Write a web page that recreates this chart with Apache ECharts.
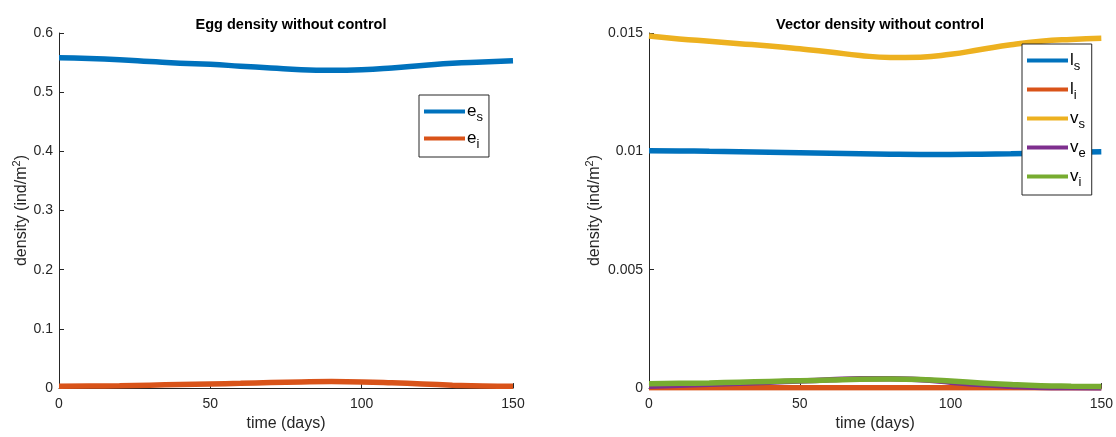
<!DOCTYPE html>
<html><head><meta charset="utf-8">
<script src="https://cdn.jsdelivr.net/npm/echarts@6/dist/echarts.min.js"></script>
<style>html,body{margin:0;padding:0;background:#fff}#c{width:1116px;height:437px}</style>
</head><body><div id="c"></div>
<script>
const days = [0,10,20,30,40,50,60,70,80,90,100,110,120,130,140,150];
const eS = [0.558,0.557,0.555,0.552,0.549,0.547,0.544,0.541,0.538,0.537,0.538,0.541,0.545,0.549,0.551,0.553];
const eI = [0.003,0.0035,0.004,0.005,0.006,0.007,0.008,0.0095,0.0105,0.011,0.0105,0.009,0.007,0.005,0.0035,0.003];
const lS = [0.01003,0.01002,0.01000,0.00998,0.00996,0.00994,0.00992,0.00990,0.00988,0.00987,0.00987,0.00988,0.00990,0.00993,0.00996,0.00998];
const lI = [0.00001,0.00001,0.00001,0.00001,0.00001,0.00001,0.00001,0.00001,0.00001,0.00001,0.00001,0.00001,0.00001,0.00001,0.00001,0.00001];
const vS = [0.01487,0.01475,0.01465,0.01455,0.01445,0.01433,0.0142,0.01405,0.01397,0.01398,0.0141,0.0143,0.0145,0.01465,0.01473,0.01478];
const vE = [0.00008,0.00012,0.00016,0.0002,0.00025,0.0003,0.00035,0.0004,0.0004,0.00035,0.00025,0.00015,0.00008,0.00003,0.00001,0];
const vI = [0.00018,0.0002,0.00022,0.00025,0.00028,0.00031,0.00034,0.00037,0.00038,0.00036,0.0003,0.00022,0.00015,0.0001,0.00008,0.00007];
const leftTicks = [0,0.1,0.2,0.3,0.4,0.5,0.6];
const rightTicks = [0,0.005,0.01,0.015];

const C = ['#0072BD','#D95319','#EDB120','#7E2F8E','#77AC30'];
const FONT = '"Liberation Sans", Arial, sans-serif';
const axisCol = '#262626';
const pair = (ys) => days.map((d,i)=>[d, ys[i]]);

function mkX(gi){
  return {type:'value', gridIndex:gi, min:0, max:150, interval:50,
    name:'time (days)', nameLocation:'middle', nameGap:27,
    nameTextStyle:{fontFamily:FONT,fontSize:16,color:axisCol},
    axisLine:{lineStyle:{color:axisCol,width:1}},
    axisTick:{inside:true,length:5,lineStyle:{color:axisCol}},
    axisLabel:{fontFamily:FONT,fontSize:14,color:axisCol,margin:9},
    splitLine:{show:false}};
}
function mkY(gi, max, interval, ticks){
  return {type:'value', gridIndex:gi, min:0, max:max, interval:interval,
    name:'density (ind/m{sup|2})', nameLocation:'middle', nameGap: gi===0?25:44,
    nameTextStyle:{fontFamily:FONT,fontSize:16,color:axisCol,
      rich:{sup:{fontFamily:FONT,fontSize:11,color:axisCol,verticalAlign:'top',padding:[0,0,10,0]}}},
    axisLine:{lineStyle:{color:axisCol,width:1}},
    axisTick:{inside:true,length:5,lineStyle:{color:axisCol}},
    axisLabel:{fontFamily:FONT,fontSize:14,color:axisCol,margin:6,
      formatter:(v)=>{ const t = ticks.find(x=>Math.abs(x-v)<1e-9); return t===undefined?'':String(t);} },
    splitLine:{show:false}};
}
function line(name, ys, color, xi, yi){
  return {name:name, type:'line', xAxisIndex:xi, yAxisIndex:yi, data:pair(ys),
    smooth:true, showSymbol:false, symbol:'none',
    lineStyle:{color:color,width:5.5}, itemStyle:{color:color}, z:2};
}
const labelRich = {
  m:{fontFamily:FONT,fontSize:17,color:'#000'},
  s:{fontFamily:FONT,fontSize:13,color:'#000',padding:[12,0,0,0]}
};
function legendFmt(n){ const p=n.split('_'); return '{m|'+p[0]+'}{s|'+p[1]+'}'; }
function mkLegend(names, left, top, gap){
  return {data:names.map(n=>({name:n, icon:'rect'})), orient:'vertical', left:left, top:top,
    itemWidth:41, itemHeight:4, itemGap:gap, padding:[8,6,6,5],
    backgroundColor:'#fff', borderColor:axisCol, borderWidth:1, borderRadius:0,
    formatter:legendFmt, textStyle:{rich:labelRich, padding:[0,0,0,-3]}, selectedMode:false, z:10};
}

const chart = echarts.init(document.getElementById('c'), null, {renderer:'canvas'});
chart.setOption({
  animation:false,
  backgroundColor:'#fff',
  title:[
    {text:'Egg density without control', left:286, top:12, textAlign:'center',
     textStyle:{fontFamily:FONT,fontSize:14.5,fontWeight:'bold',color:'#000'}},
    {text:'Vector density without control', left:875, top:12, textAlign:'center',
     textStyle:{fontFamily:FONT,fontSize:14.5,fontWeight:'bold',color:'#000'}}
  ],
  grid:[
    {left:59, right:603, top:33, bottom:47, containLabel:false},
    {left:649, right:14, top:33, bottom:47, containLabel:false}
  ],
  xAxis:[mkX(0), mkX(1)],
  yAxis:[mkY(0,0.6,0.1,leftTicks), mkY(1,0.015,0.005,rightTicks)],
  legend:[mkLegend(['e_s','e_i'], 419, 95, 6), mkLegend(['l_s','l_i','v_s','v_e','v_i'], 1022, 44, 8)],
  series:[
    line('e_s', eS, C[0], 0, 0),
    line('e_i', eI, C[1], 0, 0),
    line('l_s', lS, C[0], 1, 1),
    line('l_i', lI, C[1], 1, 1),
    line('v_s', vS, C[2], 1, 1),
    line('v_e', vE, C[3], 1, 1),
    line('v_i', vI, C[4], 1, 1)
  ]
});
</script></body></html>
